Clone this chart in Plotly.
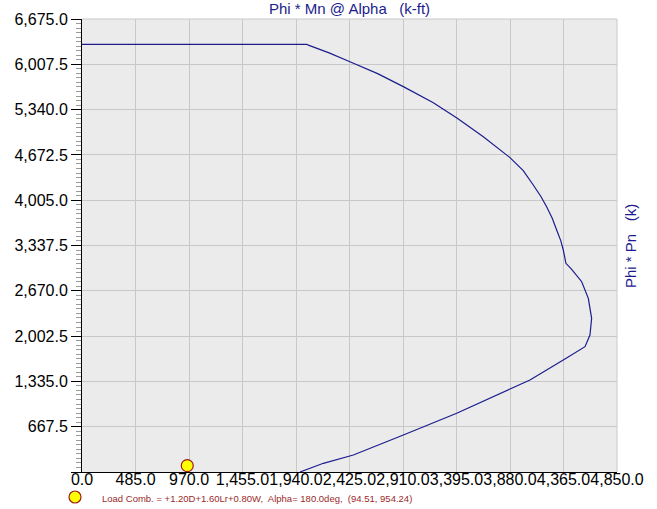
import plotly.graph_objects as go

# Interaction curve (Phi*Mn, Phi*Pn)
mn_vals = [0, 2037, 2052, 2240, 2429, 2680, 2913, 3185, 3402, 3638, 3880, 4000, 4091, 4160,
           4212, 4263, 4303, 4340, 4363, 4378, 4387, 4439, 4530, 4590, 4620, 4605, 4560,
           4378, 4061, 3880, 3397, 2913, 2460, 2188, 1976]
pn_vals = [6302, 6302, 6290, 6175, 6046, 5870, 5678, 5442, 5212, 4941, 4632, 4440, 4229, 4060,
           3909, 3740, 3566, 3410, 3271, 3160, 3075, 2987, 2804, 2559, 2265, 2019, 1847,
           1665, 1356, 1223, 865, 545, 250, 128, 0]

# Load combination point
load_mn = [954.24]
load_pn = [94.51]
load_label = "Load Comb. = +1.20D+1.60Lr+0.80W,  Alpha= 180.0deg,  (94.51, 954.24)"

x_ticks = [0, 485, 970, 1455, 1940, 2425, 2910, 3395, 3880, 4365, 4850]
x_labels = ["0.0", "485.0", "970.0", "1,455.0", "1,940.0", "2,425.0", "2,910.0",
            "3,395.0", "3,880.0", "4,365.0", "4,850.0"]
y_ticks = [0, 667.5, 1335, 2002.5, 2670, 3337.5, 4005, 4672.5, 5340, 6007.5, 6675]
y_labels = ["", "667.5", "1,335.0", "2,002.5", "2,670.0", "3,337.5", "4,005.0",
            "4,672.5", "5,340.0", "6,007.5", "6,675.0"]

navy = "#1c1c8e"
fig = go.Figure()
fig.add_trace(go.Scatter(x=mn_vals, y=pn_vals, mode="lines",
                         line=dict(color=navy, width=1.2), hoverinfo="skip"))
fig.add_trace(go.Scatter(x=load_mn, y=load_pn, mode="markers",
                         marker=dict(size=12, color="#ffff00",
                                     line=dict(color="#9b1b1b", width=1.2))))

fig.update_layout(
    width=657, height=509,
    margin=dict(l=82, r=40, t=19, b=37),
    paper_bgcolor="white", plot_bgcolor="#ebebeb",
    showlegend=False,
    font=dict(family="Liberation Sans, Arial, sans-serif", color="black"),
    xaxis=dict(range=[0, 4850], tickvals=x_ticks, ticktext=x_labels,
               automargin=False, tickangle=0, ticklabelstandoff=-7,
               showgrid=True, gridcolor="#c8c8c8", gridwidth=1,
               zeroline=False, showline=True, linecolor="black", linewidth=1,
               ticks="", tickfont=dict(size=16, color="black")),
    yaxis=dict(range=[0, 6675], tickvals=y_ticks, ticktext=y_labels,
               automargin=False,
               showgrid=True, gridcolor="#c8c8c8", gridwidth=1,
               zeroline=False, showline=True, linecolor="black", linewidth=1,
               ticks="outside", ticklen=10, tickcolor="black",
               tickfont=dict(size=16, color="black"),
               minor=dict(dtick=66.75, ticks="outside", ticklen=5,
                          tickcolor="#999999", showgrid=False)),
)

# top and right border
fig.add_shape(type="line", xref="paper", yref="paper", x0=0, x1=1, y0=1, y1=1,
              line=dict(color="#c8c8c8", width=1))
fig.add_shape(type="line", xref="paper", yref="paper", x0=1, x1=1, y0=0, y1=1,
              line=dict(color="#c8c8c8", width=1))

fig.add_annotation(text="Phi * Mn @ Alpha   (k-ft)", xref="paper", yref="paper",
                   x=(349 - 82) / 535, y=1 + 10 / 453, showarrow=False,
                   font=dict(size=15, color=navy), xanchor="center", yanchor="middle")
fig.add_annotation(text="Phi * Pn   (k)", xref="paper", yref="paper",
                   x=1 + 13 / 535, y=(472 - 246) / 453, showarrow=False, textangle=-90,
                   font=dict(size=15, color=navy), xanchor="center", yanchor="middle")

# legend row
fig.add_shape(type="circle", xref="paper", yref="paper",
              x0=(69 - 82) / 535, x1=(81 - 82) / 535,
              y0=-(503 - 472) / 453, y1=-(491 - 472) / 453,
              fillcolor="#ffff00", line=dict(color="#9b1b1b", width=1.2))
fig.add_annotation(text=load_label, xref="paper", yref="paper",
                   x=(100 - 82) / 535, y=-(498 - 472) / 453, showarrow=False,
                   xanchor="left", yanchor="middle",
                   font=dict(size=9.5, color="#9b2a2a"))

fig.write_html("out.html", config={"displayModeBar": False},
               post_script="document.body.style.margin='0';document.body.style.overflow='hidden';")
